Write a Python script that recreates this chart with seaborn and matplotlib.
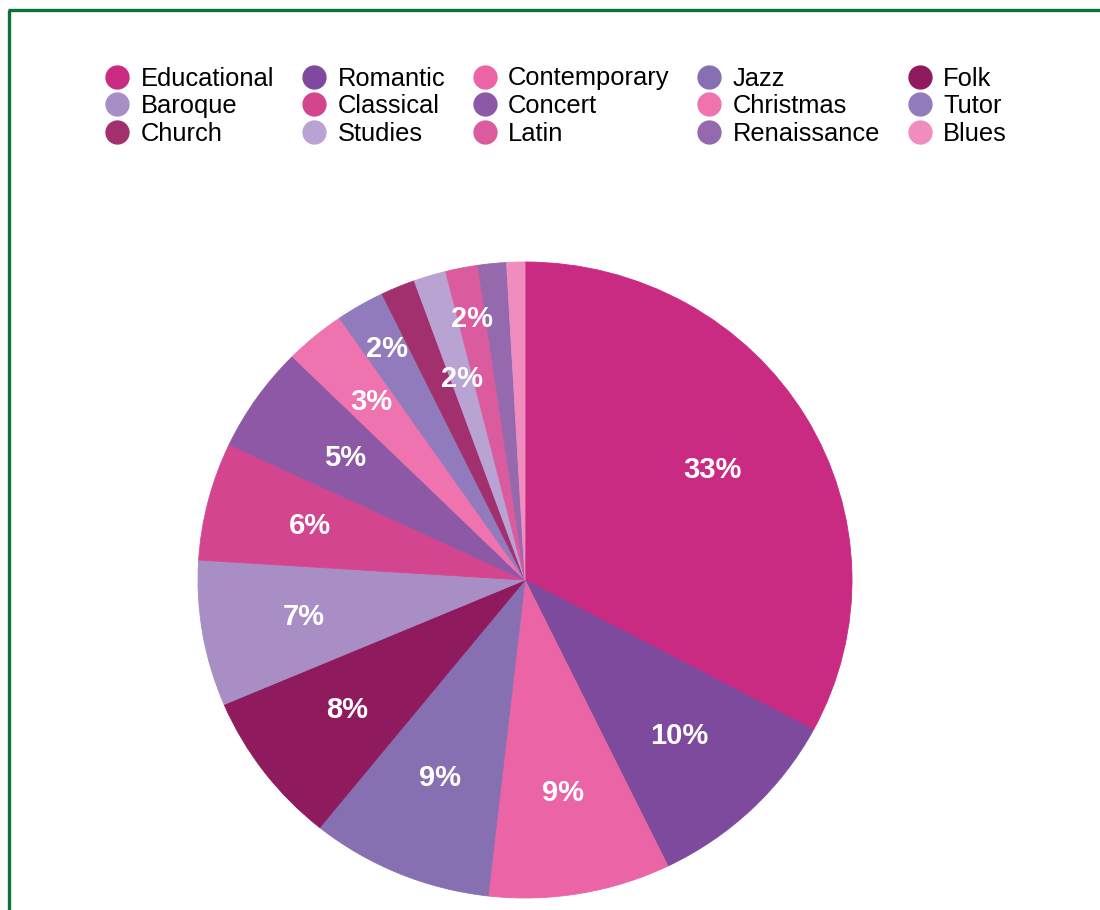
import matplotlib
matplotlib.use("Agg")
import matplotlib.pyplot as plt
from matplotlib.lines import Line2D
import numpy as np
import seaborn as sns

# ---- data ----
categories = ["Educational", "Romantic", "Contemporary", "Jazz", "Folk",
              "Baroque", "Classical", "Concert", "Christmas", "Tutor",
              "Church", "Studies", "Latin", "Renaissance", "Blues"]
shares = [32.8, 10.0, 9.0, 9.0, 7.8, 7.4, 6.0, 5.4, 3.0, 2.4, 1.7, 1.6, 1.6, 1.4, 0.9]
show_label = [True, True, True, True, True, True, True, True, True, True,
              False, True, True, False, False]
colors = ["#C92A82", "#7E4A9E", "#EA64A6", "#8670B2", "#901A5E",
          "#A88EC4", "#D4458F", "#8D58A6", "#EE73AE", "#917BBC",
          "#A3306E", "#B9A3D2", "#DA5C9E", "#9569AD", "#F08CBE"]

# ---- style ----
sns.set_theme(style="white")
palette = sns.color_palette(colors)
plt.rcParams["font.family"] = ["Liberation Sans", "DejaVu Sans"]
plt.rcParams["text.color"] = "black"

label_radius = [0.67, 0.68, 0.68, 0.675, 0.68, 0.685, 0.68, 0.67, 0.73, 0.84,
                0.67, 0.66, 0.835, 0.67, 0.67]

W, H = 1100, 910
fig = plt.figure(figsize=(W / 100, H / 100), dpi=100)
fig.patch.set_facecolor("white")

# pie axes (slightly elliptical as in reference)
cx, cy, rx, ry = 525, 580, 327, 318
ax = fig.add_axes([(cx - rx) / W, (H - cy - ry) / H, 2 * rx / W, 2 * ry / H])
wedges, _ = ax.pie(shares, colors=palette, startangle=90, counterclock=False,
                   radius=1.0, wedgeprops=dict(linewidth=0.6, edgecolor="none"))
for w, c in zip(wedges, palette):
    w.set_edgecolor(c)
ax.set_aspect("auto")
ax.set_xlim(-1, 1)
ax.set_ylim(-1, 1)
ax.axis("off")

total = float(sum(shares))
start = 90.0
for val, show, r in zip(shares, show_label, label_radius):
    span = 360.0 * val / total
    mid = np.deg2rad(start - span / 2)
    start -= span
    if show:
        ax.text(r * np.cos(mid), r * np.sin(mid), f"{val:.0f}%",
                ha="center", va="center", color="white",
                fontsize=21, fontweight="bold")

# legend (row-major order displayed in 5 columns)
ncol, nrow = 5, 3
handles = [Line2D([0], [0], marker="o", linestyle="none", markersize=16.5,
                  markerfacecolor=c, markeredgecolor=c) for c in palette]
order = []
for col in range(ncol):
    for row in range(nrow):
        order.append(row * ncol + col)
leg = fig.legend([handles[i] for i in order], [categories[i] for i in order],
                 ncol=ncol, loc="upper left",
                 bbox_to_anchor=(105 / W, 1 - 66.5 / H),
                 frameon=False, fontsize=18.4, borderpad=0, borderaxespad=0,
                 handlelength=0.95, handletextpad=0.45, columnspacing=1.07,
                 labelspacing=0.14)
for t in leg.get_texts():
    t.set_color("black")

# green frame (left and top)
green = "#0B7339"
fig.add_artist(Line2D([9 / W, 9 / W], [0, 1 - 9.5 / H], transform=fig.transFigure,
                      color=green, linewidth=2.4, solid_capstyle="butt"))
fig.add_artist(Line2D([8 / W, 1], [1 - 9.5 / H, 1 - 9.5 / H], transform=fig.transFigure,
                      color=green, linewidth=2.4, solid_capstyle="butt"))

fig.savefig("out.png", dpi=100, facecolor="white")
